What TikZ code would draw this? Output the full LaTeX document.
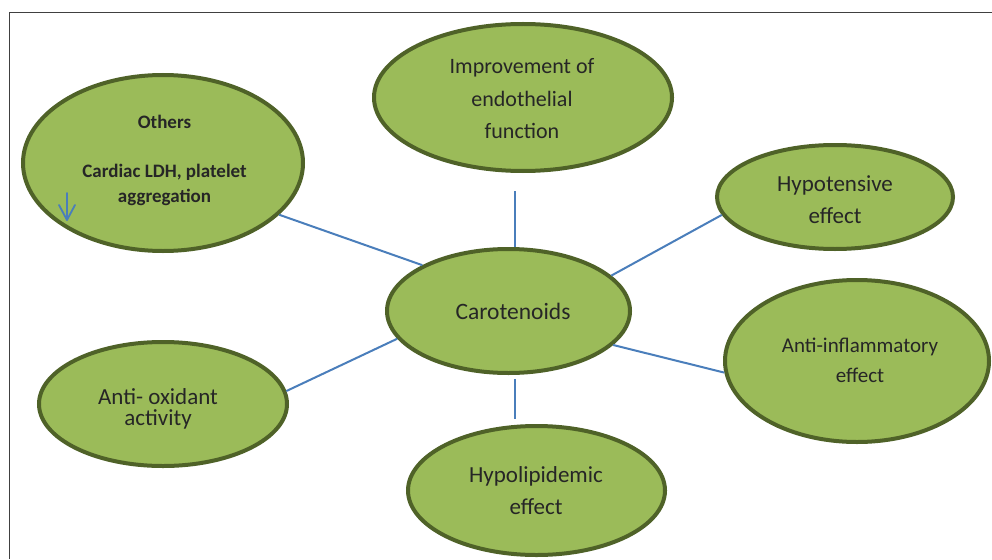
\documentclass[tikz,border=0pt]{standalone}
\usepackage{fontspec}
\setmainfont{Carlito}
\usetikzlibrary{shapes.geometric}
\definecolor{fillg}{HTML}{9BBB59}
\definecolor{edgeg}{HTML}{4F6228}
\definecolor{connb}{HTML}{4A7EBB}
\definecolor{txtc}{HTML}{262626}
\definecolor{framec}{HTML}{404040}
\begin{document}
\begin{tikzpicture}[x=1pt,y=-1pt,
  bubble/.style={ellipse, draw=edgeg, fill=fillg, line width=4pt, inner sep=0pt},
  txt/.style={text=txtc, align=center, inner sep=0pt},
  conn/.style={draw=connb, line width=2pt},
]
\useasboundingbox (0,0) rectangle (992,559);
\draw[framec, line width=1pt] (9.5,559) -- (9.5,12.5) -- (992,12.5);

% bubbles
\node[bubble, minimum width=280pt, minimum height=176pt] (others) at (163,163) {};
\node[bubble, minimum width=298pt, minimum height=147pt] (improv) at (523,97.5) {};
\node[bubble, minimum width=236pt, minimum height=104pt] (hypot) at (835,197) {};
\node[bubble, minimum width=243pt, minimum height=124pt] (carot) at (508.5,311) {};
\node[bubble, minimum width=264pt, minimum height=162pt] (infl) at (857,361) {};
\node[bubble, minimum width=248pt, minimum height=124pt] (antiox) at (163,404) {};
\node[bubble, minimum width=257pt, minimum height=129pt] (hypo) at (536.5,490.5) {};

% connectors
\draw[conn] (carot.152) -- (others.336);
\draw[conn] (carot.19) -- (hypot.189);
\draw[conn] (carot.342) -- (infl.185);
\draw[conn] (carot.194) -- (antiox.6);
\draw[conn, shorten >=18pt] (carot.84) -- (carot.84 |- improv.south);
\draw[conn, shorten <=4pt, shorten >=5pt] (carot.276) -- (carot.276 |- hypo.north);

% small down arrow
\draw[connb, line width=1.8pt, line cap=round, line join=round]
  (67,193) -- (67,220) (59,205) -- (67,220) -- (75,205);

% texts
\node[txt, font=\bfseries\fontsize{19}{25.5}\selectfont] (othersT) at (164.5,160.5)
  {Others\\[23pt]Cardiac LDH, platelet\\aggregation};
\node[txt, font=\fontsize{22}{32.5}\selectfont] (improvT) at (522,99)
  {Improvement of\\endothelial\\function};
\node[txt, font=\fontsize{23}{32}\selectfont] (hypotT) at (835,199.5)
  {Hypotensive\\effect};
\node[txt, font=\fontsize{23.5}{28}\selectfont] (carotT) at (513,311)
  {Carotenoids};
\node[txt, font=\fontsize{21}{30}\selectfont] (inflT) at (860,360.5)
  {Anti-inflammatory\\effect};
\node[txt, font=\fontsize{23}{21}\selectfont] (antioxT) at (158,409)
  {Anti- oxidant\\activity};
\node[txt, font=\fontsize{23}{32.3}\selectfont] (hypoT) at (536,490.8)
  {Hypolipidemic\\effect};
\end{tikzpicture}
\end{document}
